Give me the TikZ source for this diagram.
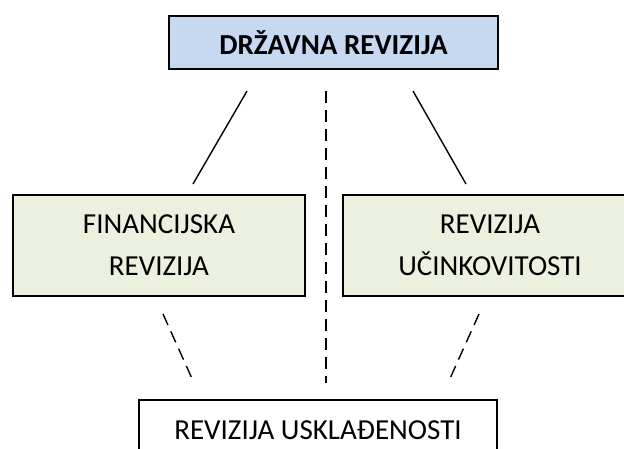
\documentclass[tikz,border=0pt]{standalone}
\usepackage{fontspec}
\setmainfont{Carlito}
\definecolor{boxblue}{HTML}{C6D9F1}
\definecolor{boxgreen}{HTML}{EBF1DE}
\tikzset{
  revbox/.style={draw, line width=1.6pt, inner sep=0pt, align=center,
    font=\fontsize{29}{42}\selectfont},
  tie/.style={line width=1.4pt},
  dashtie/.style={line width=1.4pt, dash pattern=on 12pt off 7pt}
}
\begin{document}
\begin{tikzpicture}[x=1pt, y=-1pt]
\useasboundingbox (0,0) rectangle (624,448);

% Boxes
\node[revbox, fill=boxblue, minimum width=329pt, minimum height=53pt] (drz) at (333.5, 42.5) {\textbf{DRŽAVNA REVIZIJA}};
\node[revbox, fill=boxgreen, minimum width=292pt, minimum height=101pt] (fin) at (159, 245.5) {FINANCIJSKA\\REVIZIJA};
\node[revbox, fill=boxgreen, minimum width=294pt, minimum height=101pt] (uci) at (490, 245.5) {REVIZIJA\\UČINKOVITOSTI};
\node[revbox, minimum width=358pt, minimum height=60pt, anchor=north, text depth=0pt] (usk) at (318, 399) {};
\node[font=\fontsize{29}{42}\selectfont, anchor=base, inner sep=0pt] (uskt) at (usk.north |- 0,439) {REVIZIJA USKLAĐENOSTI};

% Line ends
\coordinate (a1) at (247, 91);
\coordinate (a2) at (193, 184);
\coordinate (b1) at (413, 91);
\coordinate (b2) at (466, 184);
\coordinate (c1) at (163, 314);
\coordinate (c2) at (194, 383);
\coordinate (d1) at (479, 314);
\coordinate (d2) at (448, 383);
\coordinate (m1) at (326, 91);
\coordinate (m2) at (326, 383);

% Connectors
\draw[tie] (a1) -- (a2);
\draw[tie] (b1) -- (b2);
\draw[dashtie] (c1) -- (c2);
\draw[dashtie] (d1) -- (d2);
\draw[dashtie] (m1) -- (m2);
\end{tikzpicture}
\end{document}
